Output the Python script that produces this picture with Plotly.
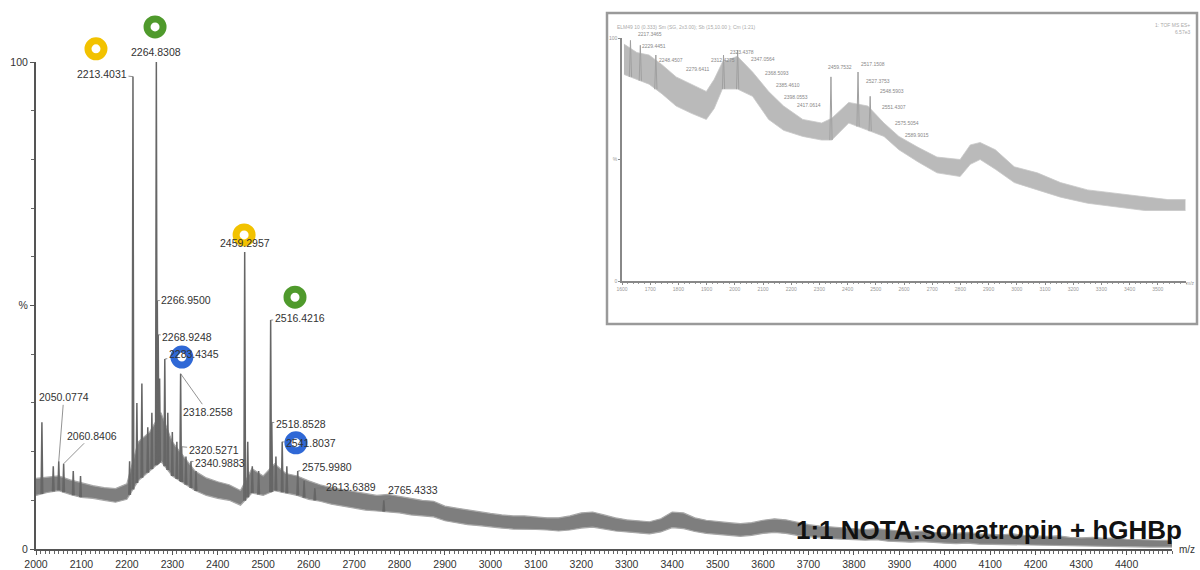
import numpy as np
import plotly.graph_objects as go

W, H = 1200, 570

# ---------------- main spectrum data ----------------
band_mz = list(range(2000, 4501, 25))
band_hi = [14.5, 14.8, 15.0, 14.2, 13.6, 13.0, 12.6, 12.4, 13.4, 22.0,
           24.0, 28.0, 22.0, 19.0, 16.0, 14.6, 13.8, 13.2, 12.0, 16.5,
           15.0, 17.5, 15.5, 15.0, 14.0, 13.2, 12.6, 12.2, 11.8, 11.4,
           11.0, 11.2, 10.8, 10.4, 10.0, 9.8, 8.8, 8.4, 8.0, 7.6,
           7.3, 7.0, 6.8, 6.8, 6.6, 6.4, 6.4, 6.8, 7.4, 7.6,
           7.0, 6.4, 6.0, 5.8, 5.6, 6.2, 7.6, 7.4, 6.4, 5.9,
           5.6, 5.4, 5.2, 5.4, 5.9, 6.2, 6.0, 5.5, 5.0, 4.7,
           4.5, 4.3, 4.2, 4.0, 4.2, 3.9, 3.7, 3.5, 3.7, 3.4,
           3.3, 3.2, 3.4, 3.1, 3.0, 2.9, 3.1, 2.8, 2.7, 2.6,
           2.7, 2.4, 2.3, 2.4, 2.2, 2.3, 2.0, 1.9, 1.8, 1.8, 1.8]
band_lo = [11.0, 11.6, 12.0, 11.2, 10.6, 10.4, 10.0, 9.6, 10.2, 14.0,
           16.0, 18.0, 15.0, 13.5, 12.0, 11.0, 10.4, 10.0, 9.0, 11.5,
           11.0, 12.0, 11.5, 11.0, 10.2, 9.8, 9.2, 8.8, 8.4, 8.0,
           7.8, 7.6, 7.4, 7.0, 6.8, 6.6, 5.8, 5.4, 5.0, 4.8,
           4.5, 4.3, 4.1, 4.1, 4.0, 3.9, 3.7, 3.9, 4.3, 4.5,
           4.1, 3.7, 3.5, 3.3, 3.1, 3.5, 4.4, 4.2, 3.6, 3.2,
           3.0, 2.8, 2.6, 2.8, 3.2, 3.4, 3.2, 2.8, 2.5, 2.3,
           2.1, 2.0, 1.9, 1.8, 1.9, 1.6, 1.5, 1.4, 1.5, 1.3,
           1.2, 1.1, 1.2, 1.0, 0.95, 0.9, 1.0, 0.8, 0.75, 0.7,
           0.75, 0.6, 0.55, 0.6, 0.5, 0.55, 0.45, 0.4, 0.4, 0.4, 0.4]

peak_mz = [2013.0, 2038.0, 2050.0774, 2060.8406, 2082.0, 2098.0, 2206.0,
           2213.4031, 2222.0, 2233.0, 2246.0, 2255.0, 2264.8308, 2266.9500,
           2268.9248, 2272.0, 2283.4345, 2290.0, 2300.0, 2310.0, 2318.2558,
           2320.5271, 2330.0, 2340.9883, 2352.0, 2459.2957, 2466.0, 2476.0,
           2490.0, 2516.4216, 2518.8528, 2528.0, 2541.8037, 2552.0, 2575.9980,
           2590.0, 2613.6389, 2765.4333]
peak_int = [26, 17, 18, 17.5, 16, 15, 18,
            97, 30, 34, 25, 28, 100, 51,
            44, 35, 39, 28, 24, 22, 36,
            21, 19, 18, 16, 61, 22, 17,
            16, 47, 26, 19, 22, 17, 16,
            14, 12.5, 10]

# labelled peaks
label_mz = [2213.4031, 2264.8308, 2266.9500, 2268.9248, 2283.4345, 2318.2558,
            2320.5271, 2340.9883, 2050.0774, 2060.8406, 2459.2957, 2516.4216,
            2518.8528, 2541.8037, 2575.9980, 2613.6389, 2765.4333]

# coloured ring markers (m/z, % on the main scale)
ring_mz = [2132, 2262, 2458, 2570, 2321, 2572]
ring_y = [102.7, 107.2, 64.5, 51.7, 39.4, 21.8]
ring_color = ["#F2C200", "#4F9A2C", "#F2C200", "#4F9A2C", "#2F68D6", "#2F68D6"]

x_ticks = list(range(2000, 4401, 100))

# ---------------- inset data ----------------
inset_mz = [1607, 1653, 1696, 1742, 1792, 1846, 1899, 1927, 1956, 2009, 2063,
            2120, 2173, 2241, 2308, 2344, 2404, 2472, 2529, 2582, 2650, 2717,
            2799, 2835, 2870, 2924, 2991, 3073, 3155, 3251, 3358, 3454, 3536, 3598]
inset_hi = [97.5, 94, 93, 89, 84, 81, 78, 83, 90, 92.5, 86,
            78, 72, 66.5, 65, 67, 73.5, 72, 65, 59.5, 55, 51,
            50, 56, 57, 54, 47, 44.5, 40.5, 37.5, 36, 34.5, 33.5, 33.5]
inset_lo = [85, 83, 81, 77, 72, 69, 66.5, 71, 79, 79, 76,
            66.5, 62, 59.5, 58, 58, 65, 62, 59.5, 54, 49, 44.5,
            43, 48, 50, 46, 40.5, 37.5, 34.5, 32, 30.5, 29, 29, 29]
inset_peak_mz = [1630, 1665, 1720, 1960, 2010, 2341, 2437, 2480]
inset_peak_int = [99, 97, 93, 93, 95, 84, 86, 76]
inset_labels = ["2217.3465", "2229.4451", "2248.4507", "2279.6411", "2312.4275",
                "2323.4378", "2347.0564", "2368.5093", "2385.4610", "2398.0553",
                "2417.0614", "2459.7532", "2517.1508", "2527.3753", "2548.5903",
                "2551.4307", "2575.5054", "2589.9015"]
inset_ticks = list(range(1600, 3501, 100))

# ---------------- geometry helpers (layout only) ----------------
def px(x):
    return x / W

def py(y):
    return 1 - y / H

X_DOM = [px(36), px(1172)]
Y_DOM = [py(549), py(62)]
Y3_DOM = [py(549), 1.0]
Y3_TOP = 100 * (549 - 0) / (549 - 62)
X2_DOM = [px(622), px(1186)]
Y2_DOM = [py(281), py(38)]

fig = go.Figure()

# main noise band (fine striped fill imitates the dense noise)
fig.add_trace(go.Scatter(x=band_mz, y=band_lo, mode="lines",
                         line=dict(color="#a8a8a8", width=1.2), hoverinfo="skip"))
fig.add_trace(go.Scatter(x=band_mz, y=band_hi, mode="lines", fill="tonexty",
                         fillcolor="#858585",
                         fillpattern=dict(shape="|", size=2, solidity=0.5,
                                          fgcolor="#6c6c6c", bgcolor="#909090"),
                         line=dict(color="#a8a8a8", width=1.2), hoverinfo="skip"))

# peaks as sticks
base = np.interp(peak_mz, band_mz, band_lo)
sx, sy = [], []
for m, h, b in zip(peak_mz, peak_int, base):
    sx += [m - 1.8, m, m + 1.8, None]
    sy += [b, h, b, None]
fig.add_trace(go.Scatter(x=sx, y=sy, mode="lines",
                         line=dict(color="#666666", width=1.5), hoverinfo="skip"))

# inset band
fig.add_trace(go.Scatter(x=inset_mz, y=inset_lo, mode="lines", xaxis="x2", yaxis="y2",
                         line=dict(color="#c8c8c8", width=0.8), hoverinfo="skip"))
fig.add_trace(go.Scatter(x=inset_mz, y=inset_hi, mode="lines", xaxis="x2", yaxis="y2",
                         fill="tonexty", fillcolor="#c4c4c4",
                         fillpattern=dict(shape="|", size=2, solidity=0.5,
                                          fgcolor="#a4a4a4", bgcolor="#d0d0d0"),
                         line=dict(color="#c8c8c8", width=0.8), hoverinfo="skip"))
ibase = np.interp(inset_peak_mz, inset_mz, inset_lo)
ix, iy = [], []
for m, h, b in zip(inset_peak_mz, inset_peak_int, ibase):
    ix += [m - 4, m, m + 4, None]
    iy += [b, h, b, None]
fig.add_trace(go.Scatter(x=ix, y=iy, mode="lines", xaxis="x2", yaxis="y2",
                         line=dict(color="#a0a0a0", width=1), hoverinfo="skip"))

annotations = []
FONT = "Liberation Sans, Arial"
LFS = 10.5

label_offsets = {
    2213.4031: (-31, -3, True),
    2264.8308: (0, -10, False),
    2266.9500: (29, -1, True),
    2268.9248: (29, 2, True),
    2283.4345: (29, -5, True),
    2318.2558: (27, 38, True),
    2320.5271: (32, 3, True),
    2340.9883: (29, 2, True),
    2050.0774: (5, -64, True),
    2060.8406: (28, -28, True),
    2459.2957: (0, -9, False),
    2516.4216: (29, -2, True),
    2518.8528: (29, 2, True),
    2541.8037: (29, 1, True),
    2575.9980: (29, -4, True),
    2613.6389: (36, -1, True),
    2765.4333: (29, -10, True),
}
for m in label_mz:
    h = peak_int[peak_mz.index(m)]
    dx, dy, arrow = label_offsets[m]
    txt = f"{m:.4f}"
    if arrow:
        annotations.append(dict(x=m, y=h, xref="x", yref="y", text=txt,
                                showarrow=True, arrowhead=0, arrowwidth=0.8,
                                arrowcolor="#777", ax=dx, ay=dy, standoff=0,
                                font=dict(size=LFS, color="#333", family=FONT)))
    else:
        annotations.append(dict(x=m, y=h, xref="x", yref="y", text=txt,
                                showarrow=False, yanchor="middle", yshift=-dy,
                                font=dict(size=LFS, color="#333", family=FONT)))

# rings, on an invisible overlay axis sharing the main % scale
fig.add_trace(go.Scatter(x=ring_mz, y=ring_y, mode="markers", yaxis="y3",
                         cliponaxis=False,
                         marker=dict(symbol="circle-open", size=16,
                                     color=ring_color,
                                     line=dict(width=7, color=ring_color)),
                         hoverinfo="skip"))

annotations.append(dict(x=px(1187), y=py(549), xref="paper", yref="paper",
                        text="m/z", showarrow=False, xanchor="center", yanchor="middle",
                        font=dict(size=10, color="#333", family=FONT)))
annotations.append(dict(x=px(1184), y=py(530), xref="paper", yref="paper",
                        text="<b>1:1 NOTA:somatropin + hGHBp</b>", showarrow=False,
                        xanchor="right", yanchor="middle",
                        font=dict(size=26, color="#111", family=FONT)))

inset_label_px = [(636, 34), (640, 46), (657, 60), (684, 69), (709, 60), (728, 52),
                  (749, 59), (763, 73), (774, 85), (782, 97), (795, 105), (826, 67),
                  (859, 64), (864, 81), (878, 91), (880, 107), (893, 123), (903, 135)]
for t, (lx, ly) in zip(inset_labels, inset_label_px):
    annotations.append(dict(x=px(lx), y=py(ly), xref="paper", yref="paper", text=t,
                            showarrow=False, xanchor="left", yanchor="middle",
                            font=dict(size=5, color="#888", family="Liberation Sans")))
annotations.append(dict(x=px(615), y=py(27), xref="paper", yref="paper",
                        text="ELM49 10 (0.333) Sm (SG, 2x3.00); Sb (15,10.00 ); Cm (1:21)",
                        showarrow=False, xanchor="left", yanchor="middle",
                        font=dict(size=5, color="#aaa", family="Liberation Sans")))
annotations.append(dict(x=px(1192), y=py(28), xref="paper", yref="paper",
                        text="1: TOF MS ES+<br>6.57e3", showarrow=False,
                        xanchor="right", yanchor="middle", align="right",
                        font=dict(size=5, color="#aaa", family="Liberation Sans")))
annotations.append(dict(x=px(1190), y=py(283), xref="paper", yref="paper",
                        text="m/z", showarrow=False, xanchor="center",
                        font=dict(size=5, color="#999", family="Liberation Sans")))

shapes = [dict(type="rect", xref="paper", yref="paper",
               x0=px(607), x1=px(1197), y0=py(324), y1=py(13),
               line=dict(color="#9a9a9a", width=2.5), fillcolor="rgba(0,0,0,0)",
               layer="below")]

fig.update_layout(
    template="none",
    width=W, height=H,
    margin=dict(l=0, r=0, t=0, b=0, autoexpand=False),
    paper_bgcolor="white", plot_bgcolor="rgba(0,0,0,0)",
    showlegend=False,
    xaxis=dict(domain=X_DOM, range=[2000, 4500], tickvals=x_ticks,
               ticks="outside", ticklen=4, tickwidth=1, tickcolor="#555",
               minor=dict(dtick=10, tick0=2000, ticks="outside", ticklen=2.5,
                          tickcolor="#666"),
               showline=True, linecolor="#555", linewidth=2, automargin=False,
               showgrid=False, zeroline=False, anchor="y",
               tickfont=dict(size=10.5, color="#333", family=FONT)),
    yaxis=dict(domain=Y_DOM, range=[0, 100], tickvals=[0, 50, 100],
               ticktext=["0", "%", "100"], ticks="outside", ticklen=4,
               tickcolor="#555", automargin=False,
               minor=dict(dtick=10, ticks="outside", ticklen=3, tickcolor="#666"),
               showline=True, linecolor="#555", linewidth=2,
               showgrid=False, zeroline=False, anchor="x",
               tickfont=dict(size=10.5, color="#333", family=FONT)),
    yaxis3=dict(domain=Y3_DOM, range=[0, Y3_TOP], visible=False, anchor="x",
                showgrid=False, zeroline=False, automargin=False),
    xaxis2=dict(domain=X2_DOM, range=[1600, 3600], tickvals=inset_ticks,
                ticks="outside", ticklen=2, tickcolor="#888", automargin=False,
                minor=dict(dtick=20, ticks="outside", ticklen=1.5, tickcolor="#999"),
                showline=True, linecolor="#888", linewidth=1.5,
                showgrid=False, zeroline=False, anchor="y2",
                tickfont=dict(size=5, color="#999", family="Liberation Sans")),
    yaxis2=dict(domain=Y2_DOM, range=[0, 100], tickvals=[0, 50, 100],
                ticktext=["0", "%", "100"], ticks="outside", ticklen=2,
                tickcolor="#888", showline=True, linecolor="#888", linewidth=1.5,
                showgrid=False, zeroline=False, anchor="x2", automargin=False,
                tickfont=dict(size=5, color="#999", family="Liberation Sans")),
    annotations=annotations,
    shapes=shapes,
)

fig.write_html("out.html", config={"displayModeBar": False},
               post_script="document.body.style.margin='0px';")
